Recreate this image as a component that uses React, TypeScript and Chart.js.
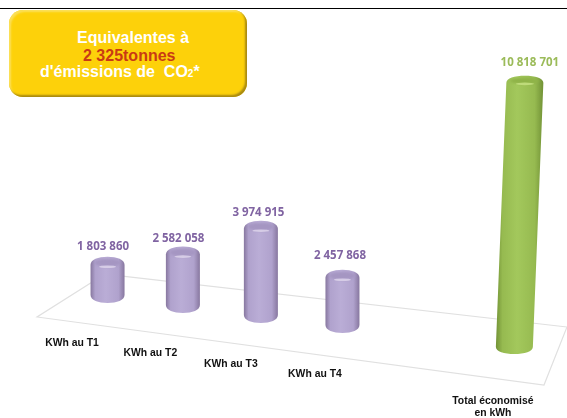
import React, { useEffect, useRef } from "react";
import { Chart, registerables } from "chart.js";

Chart.register(...registerables);

// ---- data -------------------------------------------------------------
const categories = ["KWh au T1", "KWh au T2", "KWh au T3", "KWh au T4", "Total économisé|en kWh"];
const kwhValues = [1803860, 2582058, 3974915, 2457868, 10818701];
const valueLabels = ["1 803 860", "2 582 058", "3 974 915", "2 457 868", "10 818 701"];
// where each column sits along the perspective floor (category slot / lift in kWh)
const floorSlots = [0.994, 1.96, 2.96, 4.006, 6.21];
const floorLift = [4470000, 4085000, 3700000, 3310000, 2490000];
// outline of the perspective floor
const floorOutlineX = [0.96, 0.09, 6.59, 6.885, 0.96];
const floorOutlineY = [5600000, 3930000, 1284000, 3540000, 5600000];

const calloutLines = ["Equivalentes à", "2 325tonnes", "d'émissions de  CO"];

const purple = { edge: "#87779f", mid: "#b0a2cd", light: "#baadd6", top: "#a596c2", topLight: "#d6cce6", label: "#8064a2" };
const green = { edge: "#729236", mid: "#96ba50", light: "#a3c85c", top: "#8fb348", topLight: "#bedb7a", label: "#9bbb59" };

const labelDx = [-35.5, -32.5, -30, -27.5, -21.5];
const labelDy = [40, 40, 41, 41.5, 47];
const valueDx = [-4.5, -4.5, -2.5, -2.5, 15.5];
const valueDy = [-7, -5, -5, -11, -10];

const cylinderPlugin = {
  id: "cylinders",
  afterDatasetsDraw(chart: any) {
    const { ctx } = chart;
    const meta = chart.getDatasetMeta(0);
    meta.data.forEach((bar: any, i: number) => {
      const { x, y, base, width } = bar.getProps(["x", "y", "base", "width"], true);
      const isTotal = i === kwhValues.length - 1;
      const c = isTotal ? green : purple;
      const rx = width / 2 + (isTotal ? 1.5 : 0);
      const ry = isTotal ? 6 : 7;
      const lean = isTotal ? 10.5 : 0;
      const topY = y + ry;
      const botY = base - ry;
      const cxT = x + lean;
      ctx.save();
      ctx.filter = "blur(0.6px)";
      const g = ctx.createLinearGradient(x - rx, 0, x + rx + lean, 0);
      g.addColorStop(0, c.edge);
      g.addColorStop(0.14, c.mid);
      g.addColorStop(0.45, c.light);
      g.addColorStop(0.82, c.mid);
      g.addColorStop(1, c.edge);
      // silhouette with rounded shoulders
      ctx.fillStyle = g;
      ctx.beginPath();
      ctx.moveTo(cxT - rx, topY + 1);
      ctx.bezierCurveTo(cxT - rx, topY - ry * 0.6, cxT - rx * 0.55, topY - ry, cxT, topY - ry);
      ctx.bezierCurveTo(cxT + rx * 0.55, topY - ry, cxT + rx, topY - ry * 0.6, cxT + rx, topY + 1);
      ctx.lineTo(x + rx, botY - 1);
      ctx.bezierCurveTo(x + rx, botY + ry * 0.6, x + rx * 0.55, botY + ry, x, botY + ry);
      ctx.bezierCurveTo(x - rx * 0.55, botY + ry, x - rx, botY + ry * 0.6, x - rx, botY - 1);
      ctx.closePath();
      ctx.fill();
      // top cap
      ctx.filter = "blur(1px)";
      ctx.beginPath();
      ctx.ellipse(cxT, topY - 1, rx - 4, ry - 3, 0, 0, Math.PI * 2);
      ctx.fillStyle = c.top;
      ctx.fill();
      ctx.filter = "blur(0.7px)";
      ctx.beginPath();
      ctx.ellipse(cxT, topY + ry - 4, rx * 0.5, 1.3, 0, 0, Math.PI * 2);
      ctx.fillStyle = c.topLight;
      ctx.fill();
      ctx.restore();
      // value label
      ctx.save();
      ctx.font = 'bold 11.5px "Open Sans", sans-serif';
      ctx.fillStyle = c.label;
      ctx.textAlign = "center";
      ctx.textBaseline = "alphabetic";
      ctx.fillText(valueLabels[i], x + valueDx[i], y + valueDy[i]);
      ctx.restore();
      // category label
      ctx.save();
      ctx.font = 'bold 10.4px "Liberation Sans", Arial, sans-serif';
      ctx.fillStyle = "#111";
      ctx.textAlign = "center";
      ctx.textBaseline = "middle";
      categories[i].split("|").forEach((p: string, k: number) => {
        ctx.fillText(p, x + labelDx[i], base + labelDy[i] + k * 12.5);
      });
      ctx.restore();
    });
  },
};

export default function App() {
  const ref = useRef<HTMLCanvasElement>(null);
  useEffect(() => {
    document.body.style.margin = "0";
    const chart = new Chart(ref.current!, {
      type: "bar",
      data: {
        datasets: [
          {
            type: "bar",
            data: kwhValues.map((v, i) => ({ x: floorSlots[i], y: [floorLift[i], floorLift[i] + v] })),
            backgroundColor: "rgba(0,0,0,0)",
            barThickness: 34,
            order: 1,
          } as any,
          {
            type: "line",
            data: floorOutlineX.map((x, i) => ({ x, y: floorOutlineY[i] })),
            borderColor: "#e0e0e0",
            borderWidth: 1.2,
            pointRadius: 0,
            tension: 0,
            order: 2,
          } as any,
        ],
      },
      options: {
        animation: false,
        responsive: false,
        layout: { padding: 0 },
        plugins: { legend: { display: false }, tooltip: { enabled: false } },
        scales: {
          x: { type: "linear", min: -0.385, max: 6.885, display: false, offset: false },
          y: { min: 0, max: 16260000, display: false },
        },
      },
      plugins: [cylinderPlugin],
    });
    return () => chart.destroy();
  }, []);

  return (
    <div style={{ position: "relative", width: 567, height: 418, background: "#fff", overflow: "hidden" }}>
      <canvas ref={ref} width={567} height={418} style={{ position: "absolute", left: 0, top: 0, display: "block" }} />
      <div style={{ position: "absolute", left: 0, top: 8, width: 567, height: 1, background: "#000" }} />
      <div
        style={{
          position: "absolute",
          left: 9,
          top: 10,
          width: 238,
          height: 87,
          borderRadius: 14,
          background: "#fdd10a",
          boxShadow: "inset -2px -2px 2px #a98a10, inset 2px 2px 2px #fbe05a",
          fontFamily: '"Liberation Sans", Arial, sans-serif',
          fontWeight: "bold",
          fontSize: 16,
          lineHeight: "18px",
          color: "#fff",
        }}
      >
        <div style={{ position: "absolute", left: 68, top: 19, whiteSpace: "pre" }}>{calloutLines[0]}</div>
        <div style={{ position: "absolute", left: 74, top: 37, whiteSpace: "pre", color: "#c93a14" }}>{calloutLines[1]}</div>
        <div style={{ position: "absolute", left: 31, top: 53, whiteSpace: "pre" }}>
          {calloutLines[2]}
          <span style={{ fontSize: 10 }}>2</span>*
        </div>
      </div>
    </div>
  );
}
